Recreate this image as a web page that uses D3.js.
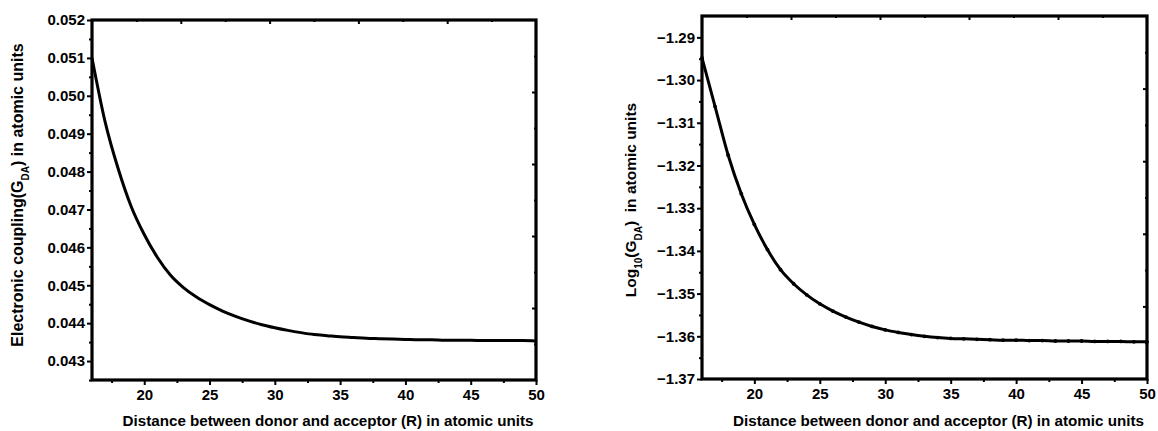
<!DOCTYPE html>
<html>
<head>
<meta charset="utf-8">
<script src="https://cdn.jsdelivr.net/npm/d3@7"></script>
<style>
  body { margin: 0; background: #fff; }
  text { font-family: "Liberation Sans", Arial, sans-serif; font-weight: bold; fill: #000; }
</style>
</head>
<body>
<svg id="chart" width="1158" height="431"></svg>
<script>
// distance R (atomic units)
const distance = [16, 17, 18, 19, 20, 21, 22, 23, 24, 25, 26, 27, 28, 29, 30, 31, 32, 33,
  34, 35, 36, 37, 38, 39, 40, 41, 42, 43, 44, 45, 46, 47, 48, 49, 50];

// electronic coupling G_DA
const coupling = [0.05100, 0.04932, 0.04808, 0.04708, 0.04634, 0.04574, 0.04527, 0.04494,
  0.04469, 0.04449, 0.04432, 0.04418, 0.04406, 0.04396, 0.04388, 0.04381, 0.04375, 0.04370,
  0.04367, 0.04364, 0.04362, 0.04360, 0.04359, 0.04358, 0.04357, 0.04356, 0.04356, 0.04355,
  0.04355, 0.04355, 0.04354, 0.04354, 0.04354, 0.04354, 0.04353];

// log10(G_DA)
const logCoupling = [-1.2948, -1.3062, -1.3176, -1.3266, -1.3338, -1.3397, -1.3444, -1.3477,
  -1.3503, -1.3524, -1.3541, -1.3555, -1.3567, -1.3577, -1.3585, -1.3591, -1.3596, -1.3600,
  -1.3603, -1.3605, -1.3606, -1.3607, -1.3608, -1.3609, -1.3609, -1.3610, -1.3610, -1.3611,
  -1.3611, -1.3611, -1.3612, -1.3612, -1.3612, -1.3613, -1.3613];

const xTicks = [20, 25, 30, 35, 40, 45, 50];
const leftYTicks = [0.043, 0.044, 0.045, 0.046, 0.047, 0.048, 0.049, 0.050, 0.051, 0.052];
const rightYTicks = [-1.37, -1.36, -1.35, -1.34, -1.33, -1.32, -1.31, -1.30, -1.29];

const xTitle = "Distance between donor and acceptor (R) in atomic units";

const svg = d3.select('#chart');

function panel(opt) {
  let g = svg.append('g');
  let x = d3.scaleLinear().domain([16, 50]).range([opt.left, opt.right]);
  let y = d3.scaleLinear().domain(opt.yDomain).range([opt.bottom, opt.top]);

  // minor ticks first
  let xMinor = d3.range(17.5, 50, 5);
  g.append('g')
    .attr('transform', 'translate(0,' + opt.bottom + ')')
    .call(d3.axisBottom(x).tickValues(xMinor).tickSize(3).tickFormat(''));
  let yMinor = opt.yTicks.slice(0, -1).map(d => d + opt.yStep / 2);
  if (opt.yDomain[0] < opt.yTicks[0]) yMinor.unshift(opt.yTicks[0] - opt.yStep / 2);
  g.append('g')
    .attr('transform', 'translate(' + opt.left + ',0)')
    .call(d3.axisLeft(y).tickValues(yMinor).tickSize(3).tickFormat(''));

  // main axes
  let xa = g.append('g')
    .attr('transform', 'translate(0,' + opt.bottom + ')')
    .call(d3.axisBottom(x).tickValues(xTicks).tickSize(5).tickPadding(4).tickFormat(d3.format('d')));
  let ya = g.append('g')
    .attr('transform', 'translate(' + opt.left + ',0)')
    .call(d3.axisLeft(y).tickValues(opt.yTicks).tickSize(5).tickPadding(2).tickFormat(d3.format(opt.fmt)));
  [xa, ya].forEach(a => {
    a.selectAll('text').style('font-size', '15px').style('font-family', '"Liberation Sans", Arial, sans-serif').style('font-weight', 'bold');
  });

  // opposite axes: 10 divisions, ticks pointing inward
  let tx = d3.scaleLinear().domain([0, 10]).range([opt.left, opt.right]);
  let ty = d3.scaleLinear().domain([0, 10]).range([opt.top, opt.bottom]);
  g.append('g').attr('transform', 'translate(0,' + opt.top + ')')
    .call(d3.axisBottom(tx).tickValues([2, 4, 6, 8]).tickSize(4).tickFormat(''));
  g.append('g').attr('transform', 'translate(0,' + opt.top + ')')
    .call(d3.axisBottom(tx).tickValues([1, 3, 5, 7, 9]).tickSize(2).tickFormat(''));
  g.append('g').attr('transform', 'translate(' + opt.right + ',0)')
    .call(d3.axisLeft(ty).tickValues([2, 4, 6, 8]).tickSize(4).tickFormat(''));
  g.append('g').attr('transform', 'translate(' + opt.right + ',0)')
    .call(d3.axisLeft(ty).tickValues([1, 3, 5, 7, 9]).tickSize(2).tickFormat(''));

  g.selectAll('.tick line').attr('stroke-width', 2);
  g.selectAll('.domain').remove();

  // frame
  g.append('rect')
    .attr('x', opt.left).attr('y', opt.top)
    .attr('width', opt.right - opt.left).attr('height', opt.bottom - opt.top)
    .attr('fill', 'none').attr('stroke', '#000').attr('stroke-width', 3.2);

  // curve
  let pts = distance.map((d, i) => [d, opt.values[i]]);
  g.append('path')
    .datum(pts)
    .attr('fill', 'none')
    .attr('stroke', '#000')
    .attr('stroke-width', 3)
    .attr('d', d3.line().x(d => x(d[0])).y(d => y(d[1])).curve(d3.curveMonotoneX));
  if (opt.dots) {
    g.selectAll('circle.pt').data(pts).enter().append('circle')
      .attr('class', 'pt')
      .attr('cx', d => x(d[0])).attr('cy', d => y(d[1]))
      .attr('r', 1.9).attr('fill', '#000');
  }

  // titles
  g.append('text')
    .attr('x', (opt.left + opt.right) / 2 + opt.xTitleShift).attr('y', 426)
    .attr('text-anchor', 'middle')
    .style('font-size', '15.2px')
    .text(xTitle);

  let yt = g.append('text')
    .attr('transform', 'translate(' + opt.yTitleX + ',' + opt.yTitleY + ') rotate(-90)')
    .attr('text-anchor', 'middle')
    .style('font-size', opt.yTitleSize)
    .style('white-space', 'pre');
  opt.yTitle.forEach(p => {
    let t = yt.append('tspan').text(p.t);
    if (p.sub) t.attr('baseline-shift', 'sub').style('font-size', '10px');
  });
}

panel({
  left: 92, right: 536, top: 20, bottom: 380,
  yDomain: [0.0425, 0.052], yTicks: leftYTicks, yStep: 0.001, fmt: '.3f',
  values: coupling, dots: false, xTitleShift: 14,
  yTitleX: 23, yTitleY: 195, yTitleSize: '16px',
  yTitle: [{t: 'Electronic coupling(G'}, {t: 'DA', sub: true}, {t: ') in atomic units'}]
});

panel({
  left: 702, right: 1147, top: 16, bottom: 379,
  yDomain: [-1.37, -1.285], yTicks: rightYTicks, yStep: 0.01, fmt: '.2f',
  values: logCoupling, dots: true, xTitleShift: 14,
  yTitleX: 636, yTitleY: 200, yTitleSize: '15.5px',
  yTitle: [{t: 'Log'}, {t: '10', sub: true}, {t: '(G'}, {t: 'DA', sub: true}, {t: ')  in atomic units'}]
});
</script>
</body>
</html>
